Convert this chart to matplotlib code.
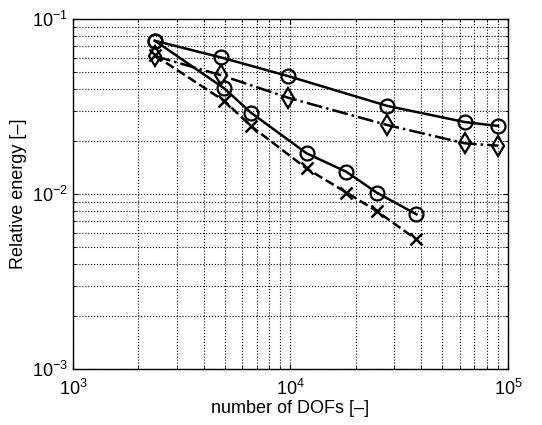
import matplotlib
matplotlib.use("Agg")
import matplotlib.pyplot as plt

plt.rcParams['font.family'] = ['Liberation Sans', 'DejaVu Sans']

# --- Data ---
dofs_a = [2380, 4790, 9780, 27900, 63400, 90200]
energy_a_circ = [0.0752, 0.0604, 0.0472, 0.0319, 0.0258, 0.0245]
energy_a_diam = [0.0615, 0.0478, 0.0355, 0.0248, 0.0195, 0.0189]

dofs_b = [2380, 4960, 6580, 11860, 18100, 24900, 38000]
energy_b_circ = [0.0752, 0.0402, 0.0292, 0.0171, 0.0134, 0.0102, 0.00766]
energy_b_cross = [0.0620, 0.0341, 0.0245, 0.0140, 0.0102, 0.0080, 0.0055]

fig = plt.figure(figsize=(5.42, 4.25), dpi=100)
ax = fig.add_axes([0.1347, 0.1318, 0.8023, 0.8232])

ax.loglog(dofs_a, energy_a_circ, 'k-', marker='o', ms=10, mfc='none', mew=1.6, lw=1.8)
ax.loglog(dofs_a, energy_a_diam, 'k-.', marker='d', ms=10, mfc='none', mew=1.6, lw=1.8)
ax.loglog(dofs_b, energy_b_circ, 'k-', marker='o', ms=10, mfc='none', mew=1.6, lw=1.8)
ax.loglog(dofs_b, energy_b_cross, 'k--', marker='x', ms=8, mew=1.8, lw=1.8)

ax.set_xlim(1e3, 1e5)
ax.set_ylim(1e-3, 1e-1)
ax.grid(True, which='both', ls=':', color='k', lw=0.8)
ax.tick_params(which='both', direction='in', top=True, right=True, labelsize=13)
ax.tick_params(axis='x', which='major', pad=7)
ax.set_xlabel("number of DOFs [\u2013]", fontsize=13, labelpad=1)
ax.set_ylabel("Relative energy [\u2013]", fontsize=13)
for s in ax.spines.values():
    s.set_linewidth(1.0)

fig.savefig("out.png", dpi=100)
